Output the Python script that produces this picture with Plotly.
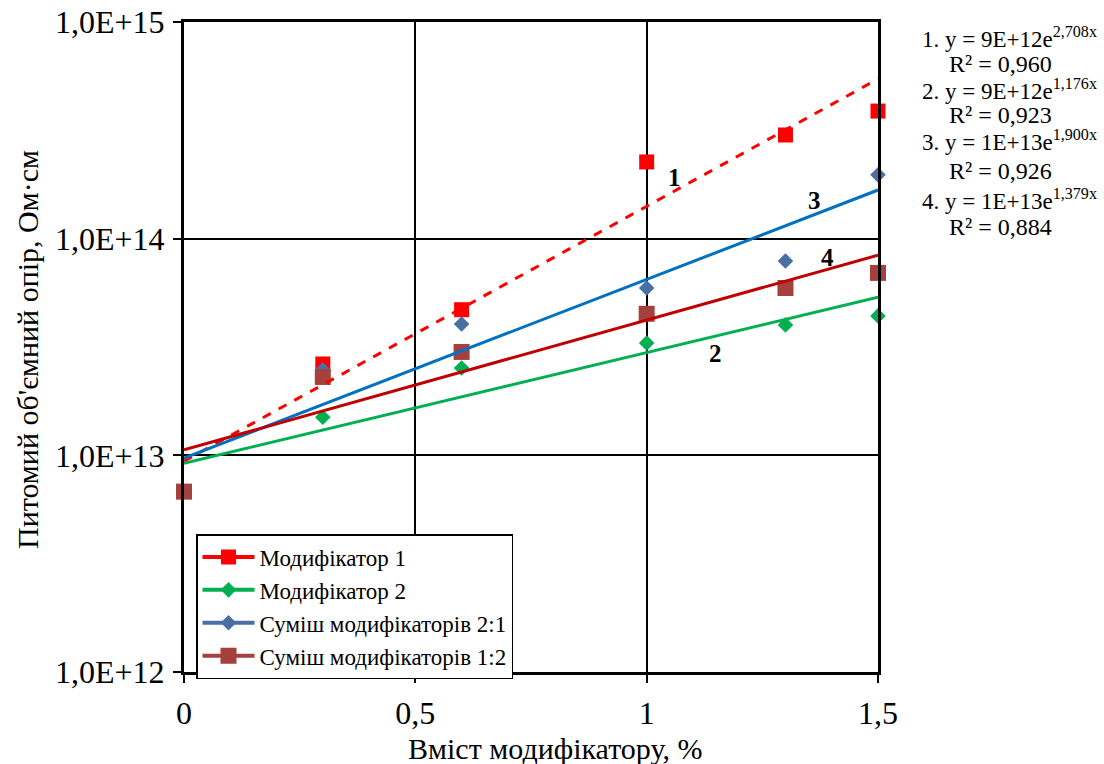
import numpy as np
import plotly.graph_objects as go

# ---------------- data ----------------
x_vals = [0, 0.3, 0.6, 1.0, 1.3, 1.5]

series_names = ["Модифікатор 1", "Модифікатор 2",
                "Суміш модифікаторів 2:1", "Суміш модифікаторів 1:2"]

mod1 = [6.8e12, 2.64e13, 4.7e13, 2.26e14, 3.01e14, 3.88e14]
mod2 = [6.8e12, 1.50e13, 2.53e13, 3.30e13, 4.00e13, 4.40e13]
mix21 = [6.8e12, 2.48e13, 4.04e13, 5.92e13, 7.89e13, 1.97e14]
mix12 = [6.8e12, 2.30e13, 3.00e13, 4.50e13, 5.92e13, 6.95e13]

# exponential trendlines y = a*exp(b*x)
trend_a = [9.4e12, 9.2e12, 9.7e12, 1.06e13]
trend_b = [2.708, 1.176, 1.900, 1.379]
trend_labels = ["1", "2", "3", "4"]
trend_label_pos_x = [1.061, 1.148, 1.362, 1.390]
trend_label_pos_y = [14.282, 13.468, 14.174, 13.911]

equations = ["1. y = 9E+12e<sup>2,708x</sup>", "R² = 0,960",
             "2. y = 9E+12e<sup>1,176x</sup>", "R² = 0,923",
             "3. y = 1E+13e<sup>1,900x</sup>", "R² = 0,926",
             "4. y = 1E+13e<sup>1,379x</sup>", "R² = 0,884"]

x_title = "Вміст модифікатору, %"
y_title = "Питомий об'ємний опір, Ом·см"

y_tickvals = [1e12, 1e13, 1e14, 1e15]
y_ticktext = ["1,0E+12", "1,0E+13", "1,0E+14", "1,0E+15"]
x_tickvals = [0, 0.5, 1.0, 1.5]
x_ticktext = ["0", "0,5", "1", "1,5"]

# ---------------- styles ----------------
FONT = "Liberation Serif"
marker_colors = ["#FF0000", "#00B050", "#4A6FA5", "#A5413D"]
marker_symbols = ["square", "diamond", "diamond", "square"]
marker_sizes = [15, 12, 12, 16]
trend_colors = ["#FF0000", "#00B050", "#0070C0", "#C00000"]
trend_dash = ["dash", "solid", "solid", "solid"]

L, R, T, B = 184, 878, 22, 672
W, H = 1104, 764
PW, PH = R - L, B - T


def px_to_paper_x(px):
    return (px - L) / PW


def px_to_paper_y(py):
    return (B - py) / PH


fig = go.Figure()

series = [mod1, mod2, mix21, mix12]
for vals, col, sym, sz in zip(series, marker_colors, marker_symbols, marker_sizes):
    fig.add_trace(go.Scatter(x=x_vals, y=vals, mode="markers",
                             marker=dict(color=col, symbol=sym, size=sz, line=dict(width=0)),
                             showlegend=False, cliponaxis=False))

xt = np.linspace(0, 1.5, 61)
for a, b, col, d in zip(trend_a, trend_b, trend_colors, trend_dash):
    fig.add_trace(go.Scatter(x=xt, y=a * np.exp(b * xt), mode="lines",
                             line=dict(color=col, width=3, dash=d),
                             showlegend=False, hoverinfo="skip"))

for name, col, sym, sz in zip(series_names, marker_colors, marker_symbols, marker_sizes):
    fig.add_trace(go.Scatter(x=[None], y=[None], mode="lines+markers", name=name,
                             line=dict(color=col, width=4),
                             marker=dict(color=col, symbol=sym, size=sz)))

annotations = []
for t, ax_, ay_ in zip(trend_labels, trend_label_pos_x, trend_label_pos_y):
    annotations.append(dict(x=ax_, y=ay_, xref="x", yref="y", text="<b>" + t + "</b>",
                            showarrow=False, font=dict(family=FONT, size=25, color="black")))

eq_y_px = [38, 64, 89, 115, 140, 171, 199, 227]
for i, (txt, py) in enumerate(zip(equations, eq_y_px)):
    if i % 2 == 0:
        annotations.append(dict(x=px_to_paper_x(1099), y=px_to_paper_y(py), xref="paper", yref="paper",
                                text=txt, showarrow=False, xanchor="right", yanchor="middle",
                                font=dict(family=FONT, size=23, color="black")))
    else:
        annotations.append(dict(x=px_to_paper_x(1000), y=px_to_paper_y(py), xref="paper", yref="paper",
                                text=txt, showarrow=False, xanchor="center", yanchor="middle",
                                font=dict(family=FONT, size=24, color="black")))

annotations.append(dict(x=px_to_paper_x(555), y=px_to_paper_y(748), xref="paper", yref="paper",
                        text=x_title, showarrow=False, xanchor="center", yanchor="middle",
                        font=dict(family=FONT, size=30, color="black")))
annotations.append(dict(x=px_to_paper_x(27), y=px_to_paper_y(350), xref="paper", yref="paper",
                        text=y_title, showarrow=False, xanchor="center", yanchor="middle",
                        textangle=-90, font=dict(family=FONT, size=30, color="black")))

fig.update_layout(
    width=W, height=H,
    margin=dict(l=L, r=W - R, t=T, b=H - B, autoexpand=False),
    paper_bgcolor="white", plot_bgcolor="white",
    font=dict(family=FONT, color="black"),
    annotations=annotations,
    legend=dict(x=px_to_paper_x(196), y=px_to_paper_y(534), xanchor="left", yanchor="top",
                bgcolor="white", bordercolor="black", borderwidth=1.5,
                font=dict(family=FONT, size=23, color="black"),
                tracegroupgap=0, itemwidth=52),
    xaxis=dict(range=[0, 1.5], tickvals=x_tickvals, ticktext=x_ticktext,
               showgrid=True, gridcolor="black", gridwidth=1.5,
               showline=True, linecolor="black", linewidth=3, mirror=True,
               ticks="outside", ticklen=8, tickwidth=1.5, tickcolor="black",
               tickfont=dict(family=FONT, size=32, color="black"),
               ticklabelstandoff=3, zeroline=False, automargin=False),
    yaxis=dict(type="log", range=[12, 15], tickvals=y_tickvals, ticktext=y_ticktext,
               showgrid=True, gridcolor="black", gridwidth=1.5,
               showline=True, linecolor="black", linewidth=3, mirror=True,
               ticks="outside", ticklen=8, tickwidth=1.5, tickcolor="black",
               tickfont=dict(family=FONT, size=32, color="black"),
               ticklabelstandoff=2, zeroline=False, automargin=False),
)

fig.write_html("out.html", config={"displayModeBar": False},
               post_script="document.body.style.margin='0px';document.body.style.overflow='hidden';")
